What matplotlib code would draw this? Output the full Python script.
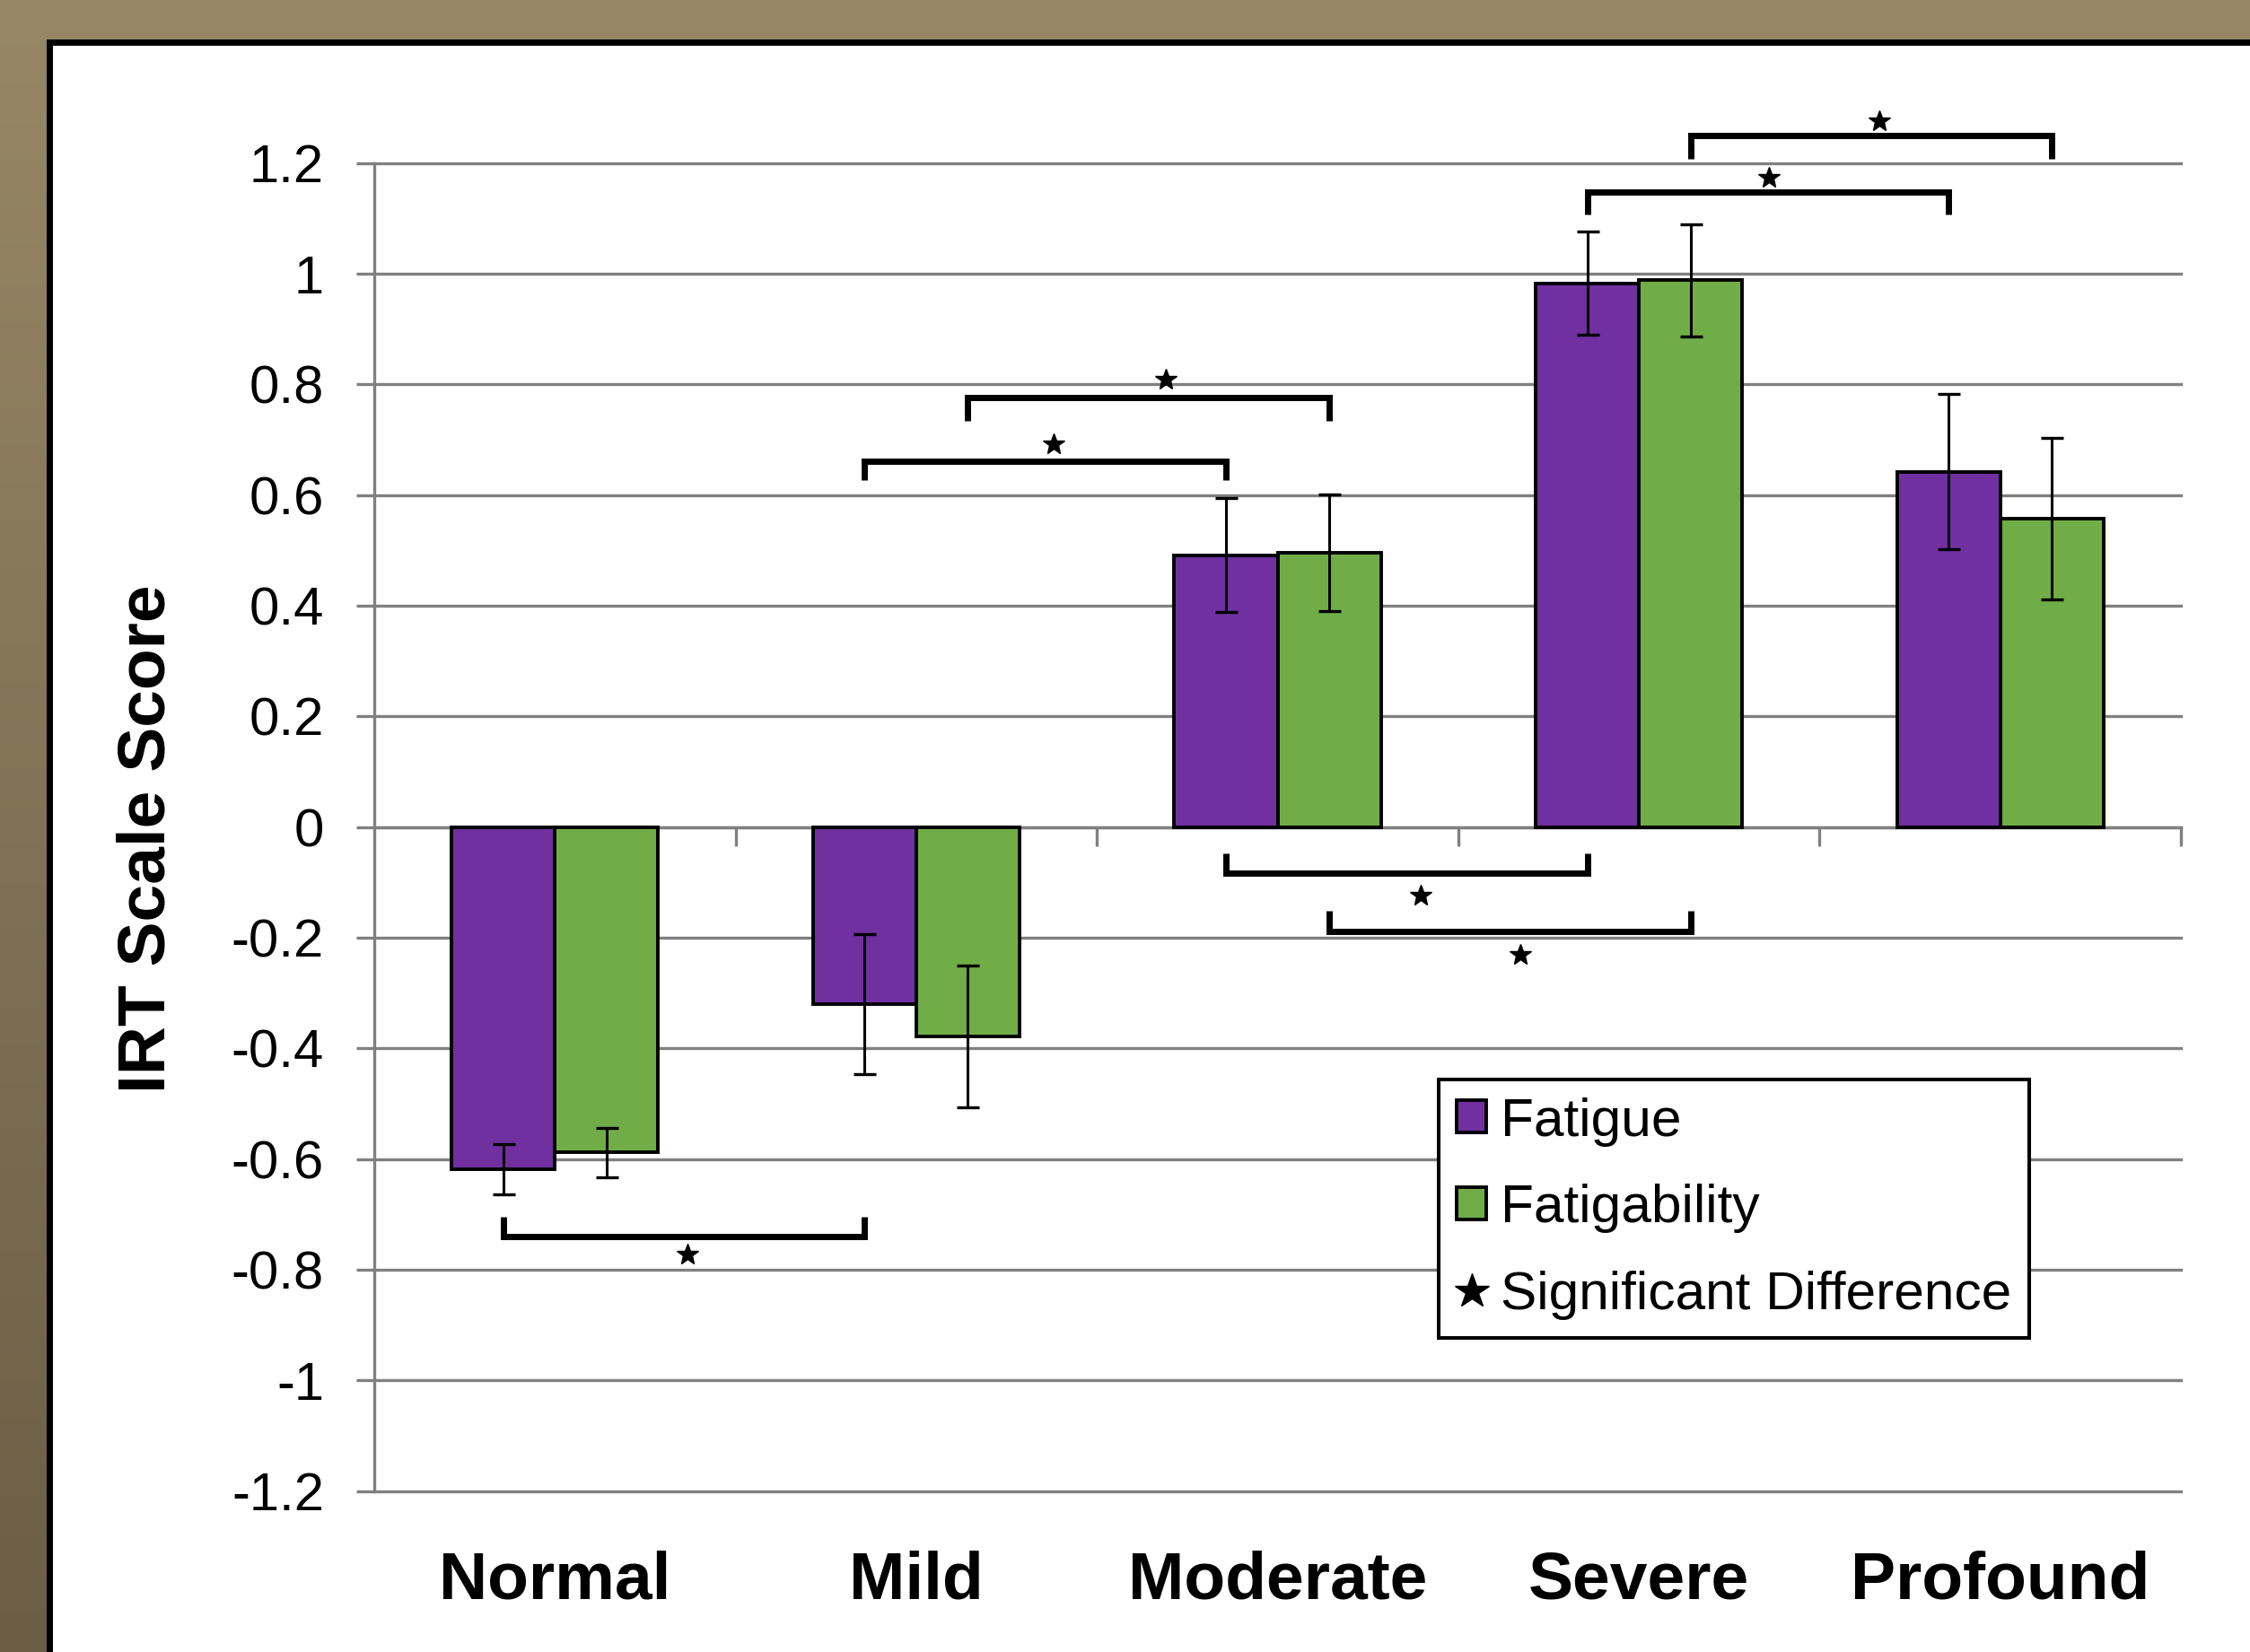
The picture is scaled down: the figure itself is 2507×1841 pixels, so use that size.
import numpy as np
import matplotlib
matplotlib.use("Agg")
import matplotlib.pyplot as plt
from matplotlib.patches import Rectangle, Patch
from matplotlib.lines import Line2D
import matplotlib.transforms as mtransforms

# ---------------- data ----------------
categories = ['Normal', 'Mild', 'Moderate', 'Severe', 'Profound']
fatigue = [-0.618, -0.320, 0.491, 0.983, 0.642]
fatigability = [-0.588, -0.378, 0.496, 0.988, 0.557]
fatigue_err = [0.045, 0.126, 0.103, 0.093, 0.140]
fatigability_err = [0.045, 0.128, 0.105, 0.102, 0.146]

ytick_values = [-1.2, -1.0, -0.8, -0.6, -0.4, -0.2, 0.0, 0.2, 0.4, 0.6, 0.8, 1.0, 1.2]
ytick_labels = ['-1.2', '-1', '-0.8', '-0.6', '-0.4', '-0.2', '0', '0.2', '0.4', '0.6', '0.8', '1', '1.2']

# significance brackets: from category/series -> to category/series
sig_from_cat = [0, 1, 1, 2, 2, 3, 3]
sig_to_cat = [1, 2, 2, 3, 3, 4, 4]
sig_series = ['Fatigue', 'Fatigue', 'Fatigability', 'Fatigue', 'Fatigability', 'Fatigue', 'Fatigability']
sig_line_y = [-0.740, 0.661, 0.776, -0.083, -0.188, 1.147, 1.249]
sig_tip_y = [-0.704, 0.627, 0.734, -0.048, -0.152, 1.107, 1.207]
star_x = [0.368, 1.380, 1.692, 2.395, 2.672, 3.360, 3.665]
star_y = [-0.772, 0.692, 0.808, -0.123, -0.230, 1.173, 1.276]

# ---------------- style ----------------
plt.rcParams['font.family'] = ['Liberation Sans', 'DejaVu Sans']
plt.rcParams['axes.unicode_minus'] = False

PURPLE = '#7030A0'
GREEN = '#70AD47'
GRID = '#808080'

W, H = 2507, 1841
fig = plt.figure(figsize=(W / 100, H / 100), dpi=100)

# background: brown gradient frame with white panel
bg = fig.add_axes([0, 0, 1, 1], zorder=-5)
top_c = np.array([0x97, 0x87, 0x66]) / 255
bot_c = np.array([0x6c, 0x5e, 0x45]) / 255
t = np.linspace(0, 1, 256)[:, None]
grad = (top_c[None, :] * (1 - t) + bot_c[None, :] * t)[:, None, :]
bg.imshow(grad, extent=[0, 1, 0, 1], aspect='auto', origin='upper')
bg.add_patch(Rectangle((52 / W, -0.1), 1.2, (H - 44) / H + 0.1, transform=bg.transAxes,
                       facecolor='black', edgecolor='none'))
bg.add_patch(Rectangle((59 / W, -0.1), 1.2, (H - 51) / H + 0.1, transform=bg.transAxes,
                       facecolor='white', edgecolor='none'))
bg.set_xlim(0, 1)
bg.set_ylim(0, 1)
bg.axis('off')

# main axes
left, right = 417 / W, 2430 / W
bottom, top = (H - 1661.7) / H, (H - 181.7) / H
ax = fig.add_axes([left, bottom, right - left, top - bottom])
ax.set_facecolor('white')

x = np.arange(len(categories))
bw = 1 / 3.5
off = {'Fatigue': -bw / 2, 'Fatigability': bw / 2}

ax.bar(x + off['Fatigue'], fatigue, width=bw, color=PURPLE, edgecolor='black', linewidth=2.8, zorder=3)
ax.bar(x + off['Fatigability'], fatigability, width=bw, color=GREEN, edgecolor='black', linewidth=2.8, zorder=3)
ax.errorbar(x + off['Fatigue'], fatigue, yerr=fatigue_err, fmt='none', ecolor='black',
            elinewidth=2.2, capsize=9, capthick=2.4, zorder=4)
ax.errorbar(x + off['Fatigability'], fatigability, yerr=fatigability_err, fmt='none', ecolor='black',
            elinewidth=2.2, capsize=9, capthick=2.4, zorder=4)

# significance brackets
for fc, tc, s, ly, ty in zip(sig_from_cat, sig_to_cat, sig_series, sig_line_y, sig_tip_y):
    x1 = fc + off[s]
    x2 = tc + off[s]
    ax.plot([x1, x1, x2, x2], [ty, ly, ly, ty], color='black', lw=5.0,
            solid_joinstyle='miter', solid_capstyle='butt', clip_on=False, zorder=5)
ax.plot(star_x, star_y, ls='none', marker='*', ms=18, color='black', clip_on=False, zorder=5)

ax.set_xlim(-0.5, len(categories) - 0.5)
ax.set_ylim(-1.2, 1.2)

# y axis
ax.set_yticks(ytick_values)
ax.set_yticklabels(ytick_labels, fontsize=43)
ax.tick_params(axis='y', direction='out', length=14.4, width=2.4, color=GRID, pad=26, labelcolor='black')
ax.yaxis.grid(True, color=GRID, linewidth=2.4, zorder=0)
ax.set_axisbelow(True)
for gl in ax.get_ygridlines():
    gl.set_clip_on(False)

# x axis at zero with ticks between categories
for sp in ['top', 'right']:
    ax.spines[sp].set_visible(False)
ax.spines['left'].set_color(GRID)
ax.spines['left'].set_linewidth(2.4)
ax.spines['bottom'].set_position(('data', 0))
ax.spines['bottom'].set_color(GRID)
ax.spines['bottom'].set_linewidth(2.4)
ax.spines['bottom'].set_zorder(2)
ax.set_xticks(x + 0.5)
ax.set_xticklabels([''] * len(categories))
ax.tick_params(axis='x', direction='out', length=15, width=2.4, color=GRID)

# category labels below plot
trans = mtransforms.blended_transform_factory(ax.transData, fig.transFigure)
for xi, name in zip(x, categories):
    ax.text(xi, (H - 1781.7) / H, name, transform=trans, ha='center', va='baseline',
            fontsize=54, fontweight='bold', color='black')

# y label
fig.text(183 / W, 1 - 934.6 / H, 'IRT Scale Score', rotation=90, ha='center', va='baseline',
         rotation_mode='anchor', fontsize=54, fontweight='bold', color='black')

# legend
handles = [Patch(facecolor=PURPLE, edgecolor='black', linewidth=2.8),
           Patch(facecolor=GREEN, edgecolor='black', linewidth=2.8),
           Line2D([], [], ls='none', marker='*', ms=29, color='black')]
labels = ['Fatigue', 'Fatigability', 'Significant Difference']
leg = ax.legend(handles, labels, loc='upper left', bbox_to_anchor=(0.5894, 0.3101),
                borderaxespad=0, fontsize=43.5, frameon=True, fancybox=False, framealpha=1,
                edgecolor='black', handlelength=0.54, handleheight=0.54, handletextpad=0.26,
                borderpad=0.33, labelspacing=0.69)
leg.get_frame().set_linewidth(2.9)
leg.set_zorder(6)

fig.savefig('out.png', dpi=100)
